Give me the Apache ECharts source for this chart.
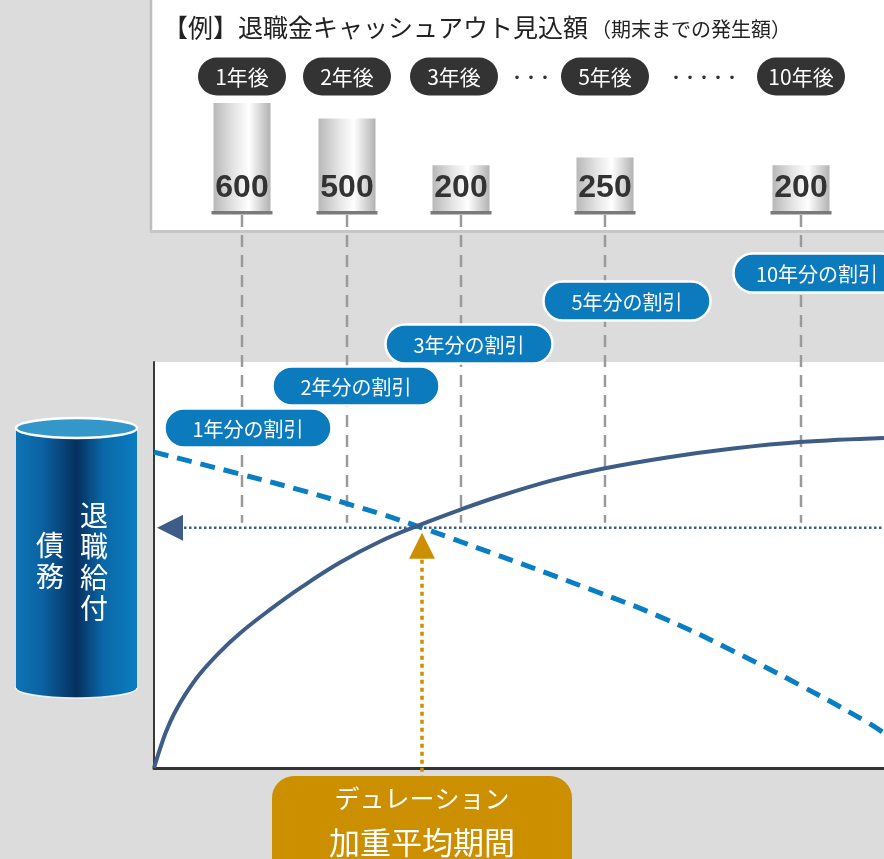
<!DOCTYPE html>
<html>
<head>
<meta charset="utf-8">
<script src="https://cdn.jsdelivr.net/npm/echarts@6/dist/echarts.min.js"></script>
<style>
  html, body { margin: 0; padding: 0; background: #dcdcdc; }
  #chart { width: 884px; height: 859px; }
</style>
</head>
<body>
<div id="chart"></div>
<script>
// ---- data -------------------------------------------------------------
// Schematic time axis runs 0..73; each payment year sits at a point on it.
const yearLabels = ['1年後', '2年後', '3年後', '5年後', '10年後'];
const yearPos = [8.8, 19.3, 30.7, 45.1, 64.7];
const cashOut = [600, 500, 200, 250, 200];
const discountLabels = ['1年分の割引', '2年分の割引', '3年分の割引', '5年分の割引', '10年分の割引'];

// Solid curve (rising) and dashed curve (falling), schematic units 0..100
const risingCurve = [
  [0, 0], [0.6, 4.7], [1.2, 8.9], [2.0, 13.3], [3.1, 18.0], [4.6, 23.2],
  [6.6, 28.6], [8.6, 33.2], [11.6, 39.0], [14.6, 44.3], [18.6, 50.6],
  [22.6, 55.8], [26.6, 59.9], [30.6, 63.6], [34.6, 67.0], [39.9, 70.9],
  [44.6, 73.6], [51.3, 76.5], [57.9, 78.7], [64.6, 80.3], [73, 81.3]
];
const fallingCurve = [
  [0, 77.8], [8.6, 72.4], [15.3, 68.0], [19.3, 65.1], [22.9, 62.4],
  [26.3, 59.6], [29.6, 56.7], [44.6, 43.1], [51.3, 36.5], [57.9, 28.8],
  [64.6, 20.4], [71.3, 11.3], [73, 8.6]
];
const duration = 26.8;   // weighted average period on the time axis
const pvLevel = 59.2;    // obligation level read across to the left

// ---- styling constants ------------------------------------------------
const X_MAX = 73;
const BAR_FLOOR = -100;
const GUIDE_TOP = 136.2;
const FONT = "'Noto Sans CJK JP', 'Noto Sans', sans-serif";
const NAVY = '#3d5d86';
const BLUE = '#0a7ec2';
const GOLD = '#cc8f00';

const chart = echarts.init(document.getElementById('chart'), null, { renderer: 'canvas' });

const barFill = new echarts.graphic.LinearGradient(0, 0, 1, 0, [
  { offset: 0, color: '#b8b8b8' },
  { offset: 0.35, color: '#e4e4e4' },
  { offset: 0.62, color: '#ffffff' },
  { offset: 1, color: '#b2b2b2' }
]);

const option = {
  animation: false,
  backgroundColor: '#dcdcdc',
  grid: [
    { left: 154, right: 0, top: 103, height: 109 },
    { left: 154, right: 0, top: 362, bottom: 91, show: true, backgroundColor: '#ffffff', borderWidth: 0 }
  ],
  xAxis: [
    { type: 'value', gridIndex: 0, min: 0, max: X_MAX, show: false },
    {
      type: 'value', gridIndex: 1, min: 0, max: X_MAX,
      axisLine: { show: true, lineStyle: { color: '#333', width: 3 } },
      axisTick: { show: false }, axisLabel: { show: false }, splitLine: { show: false }
    }
  ],
  yAxis: [
    { type: 'value', gridIndex: 0, min: BAR_FLOOR, max: 600, show: false },
    {
      type: 'value', gridIndex: 1, min: 0, max: 100,
      axisLine: { show: true, lineStyle: { color: '#3a3a3a', width: 2 } },
      axisTick: { show: false }, axisLabel: { show: false }, splitLine: { show: false }
    }
  ],
  series: [
    // cash-out bars
    {
      type: 'custom',
      xAxisIndex: 0, yAxisIndex: 0,
      data: yearPos.map((p, i) => [p, cashOut[i]]),
      z: 4,
      renderItem(params, api) {
        const x = api.value(0), v = api.value(1);
        const top = api.coord([x, v]);
        const base = api.coord([x, BAR_FLOOR]);
        const w = 57;
        return {
          type: 'group',
          children: [
            { type: 'rect', shape: { x: top[0] - w / 2, y: top[1], width: w, height: base[1] - top[1] }, style: { fill: barFill } },
            { type: 'rect', shape: { x: top[0] - w / 2 - 2, y: base[1] - 1, width: w + 4, height: 3.5 }, style: { fill: '#7a7a7a' } },
            {
              type: 'text', x: top[0], y: base[1] - 24,
              style: { text: String(v), fill: '#333', font: "bold 32px 'Liberation Sans', Arial, sans-serif", align: 'center', verticalAlign: 'middle' }
            }
          ]
        };
      }
    },
    // vertical guides from each payment down to the obligation level
    {
      type: 'custom',
      xAxisIndex: 1, yAxisIndex: 1,
      data: yearPos.map(p => [p]),
      z: 1,
      renderItem(params, api) {
        const x = api.value(0);
        const a = api.coord([x, GUIDE_TOP]);
        const b = api.coord([x, pvLevel + 1.2]);
        return {
          type: 'line',
          shape: { x1: a[0], y1: a[1], x2: b[0], y2: b[1] },
          style: { stroke: '#9a9a9a', lineWidth: 2.5, lineDash: [12, 8] }
        };
      }
    },
    {
      type: 'line',
      xAxisIndex: 1, yAxisIndex: 1,
      data: fallingCurve,
      smooth: 0.5,
      showSymbol: false,
      z: 3,
      lineStyle: { color: BLUE, width: 5, type: [15, 9] }
    },
    {
      type: 'line',
      xAxisIndex: 1, yAxisIndex: 1,
      data: risingCurve,
      smooth: 0.4,
      showSymbol: false,
      z: 4,
      lineStyle: { color: NAVY, width: 4 }
    },
    // read-across arrow and the duration arrow
    {
      type: 'custom',
      xAxisIndex: 1, yAxisIndex: 1,
      data: [[duration, pvLevel]],
      z: 5,
      renderItem(params, api) {
        const d = api.value(0), pv = api.value(1);
        const left = api.coord([0, pv]);
        const right = api.coord([X_MAX, pv]);
        const dp = api.coord([d, pv]);
        const d0 = api.coord([d, 0]);
        return {
          type: 'group',
          children: [
            { type: 'line', shape: { x1: left[0] + 30, y1: left[1], x2: right[0], y2: right[1] }, style: { stroke: NAVY, lineWidth: 2.5, lineDash: [2.5, 2.5] } },
            { type: 'polygon', shape: { points: [[left[0] + 3, left[1]], [left[0] + 29, left[1] - 13], [left[0] + 29, left[1] + 13]] }, style: { fill: NAVY } },
            { type: 'line', shape: { x1: dp[0], y1: dp[1] + 32, x2: d0[0], y2: d0[1] + 9 }, style: { stroke: GOLD, lineWidth: 3.5, lineDash: [4, 4] } },
            { type: 'polygon', shape: { points: [[dp[0], dp[1] + 5], [dp[0] - 13, dp[1] + 31], [dp[0] + 13, dp[1] + 31]] }, style: { fill: GOLD } }
          ]
        };
      }
    }
  ]
};

chart.setOption(option);

// ---- annotations --------------------------------------------------------
function pill(cx, cy, w, h, fill, text, fontSize, stroke) {
  return {
    type: 'group', z: 100,
    children: [
      {
        type: 'rect', z: 100,
        shape: { x: cx - w / 2, y: cy - h / 2, width: w, height: h, r: h / 2 },
        style: { fill: fill, stroke: stroke || null, lineWidth: stroke ? 2.5 : 0 }
      },
      {
        type: 'text', z: 101, x: cx, y: cy + 1,
        style: { text: text, fill: '#fff', font: fontSize + 'px ' + FONT, align: 'center', verticalAlign: 'middle' }
      }
    ]
  };
}

const graphics = [];

// top panel
graphics.push({ type: 'rect', z: -5, shape: { x: 151, y: 0, width: 740, height: 231 }, style: { fill: '#ffffff' } });
graphics.push({ type: 'line', z: -4, shape: { x1: 151, y1: 0, x2: 151, y2: 232 }, style: { stroke: '#bdbdbd', lineWidth: 2.5 } });
graphics.push({ type: 'line', z: -4, shape: { x1: 150, y1: 231.5, x2: 884, y2: 231.5 }, style: { stroke: '#c6c6c6', lineWidth: 3 } });

graphics.push({
  type: 'text', z: 100, x: 163, y: 27,
  style: { text: '【例】退職金キャッシュアウト見込額', fill: '#222', font: '25px ' + FONT, verticalAlign: 'middle' }
});
graphics.push({
  type: 'text', z: 100, x: 591, y: 29,
  style: { text: '（期末までの発生額）', fill: '#222', font: '20px ' + FONT, verticalAlign: 'middle' }
});

// year pills along the top
const pillCentres = yearPos.map(p => chart.convertToPixel({ gridIndex: 0 }, [p, 0])[0]);
pillCentres[2] -= 7;
yearLabels.forEach((t, i) => {
  graphics.push(pill(pillCentres[i], 76.5, 88, 38, '#333333', t, 21));
});
graphics.push({ type: 'text', z: 100, x: 531, y: 77, style: { text: '・・・', fill: '#333', font: 'bold 14px ' + FONT, align: 'center', verticalAlign: 'middle' } });
graphics.push({ type: 'text', z: 100, x: 704, y: 77, style: { text: '・・・・・', fill: '#333', font: 'bold 14px ' + FONT, align: 'center', verticalAlign: 'middle' } });

// discount callouts
const calloutCentres = [[248, 428], [356, 386], [469, 344], [627, 301], [817, 273]];
discountLabels.forEach((t, i) => {
  graphics.push(pill(calloutCentres[i][0], calloutCentres[i][1], 167, 39, '#0b7bbd', t, 20, '#ffffff'));
});

// obligation cylinder
const cylFill = new echarts.graphic.LinearGradient(0, 0, 1, 0, [
  { offset: 0, color: '#0e74b5' },
  { offset: 0.22, color: '#0a62a2' },
  { offset: 0.5, color: '#062f5e' },
  { offset: 0.72, color: '#0a68a8' },
  { offset: 1, color: '#0a7dc0' }
]);
graphics.push({
  type: 'group', z: 50,
  children: [
    { type: 'ellipse', z: 50, shape: { cx: 76.5, cy: 688, rx: 60.5, ry: 10 }, style: { fill: cylFill, stroke: 'rgba(255,255,255,0.85)', lineWidth: 1.5 } },
    { type: 'rect', z: 51, shape: { x: 16, y: 428, width: 121, height: 260 }, style: { fill: cylFill } },
    { type: 'ellipse', z: 52, shape: { cx: 76.5, cy: 428, rx: 60.5, ry: 10 }, style: { fill: '#3397ca', stroke: '#ffffff', lineWidth: 2.5 } },
    { type: 'text', z: 53, x: 94, y: 562, style: { text: '退\n職\n給\n付', fill: '#fff', font: '28px ' + FONT, lineHeight: 31, align: 'center', verticalAlign: 'middle' } },
    { type: 'text', z: 53, x: 50, y: 561, style: { text: '債\n務', fill: '#fff', font: '28px ' + FONT, lineHeight: 31, align: 'center', verticalAlign: 'middle' } }
  ]
});

// duration box
graphics.push({
  type: 'group', z: 60,
  children: [
    { type: 'rect', z: 60, shape: { x: 272, y: 776, width: 300, height: 110, r: 22 }, style: { fill: GOLD } },
    { type: 'text', z: 61, x: 422, y: 798, style: { text: 'デュレーション', fill: '#fff', font: '25px ' + FONT, align: 'center', verticalAlign: 'middle' } },
    { type: 'text', z: 61, x: 422, y: 842, style: { text: '加重平均期間', fill: '#fff', font: '31px ' + FONT, align: 'center', verticalAlign: 'middle' } }
  ]
});

chart.setOption({ graphic: { elements: graphics } });
</script>
</body>
</html>
